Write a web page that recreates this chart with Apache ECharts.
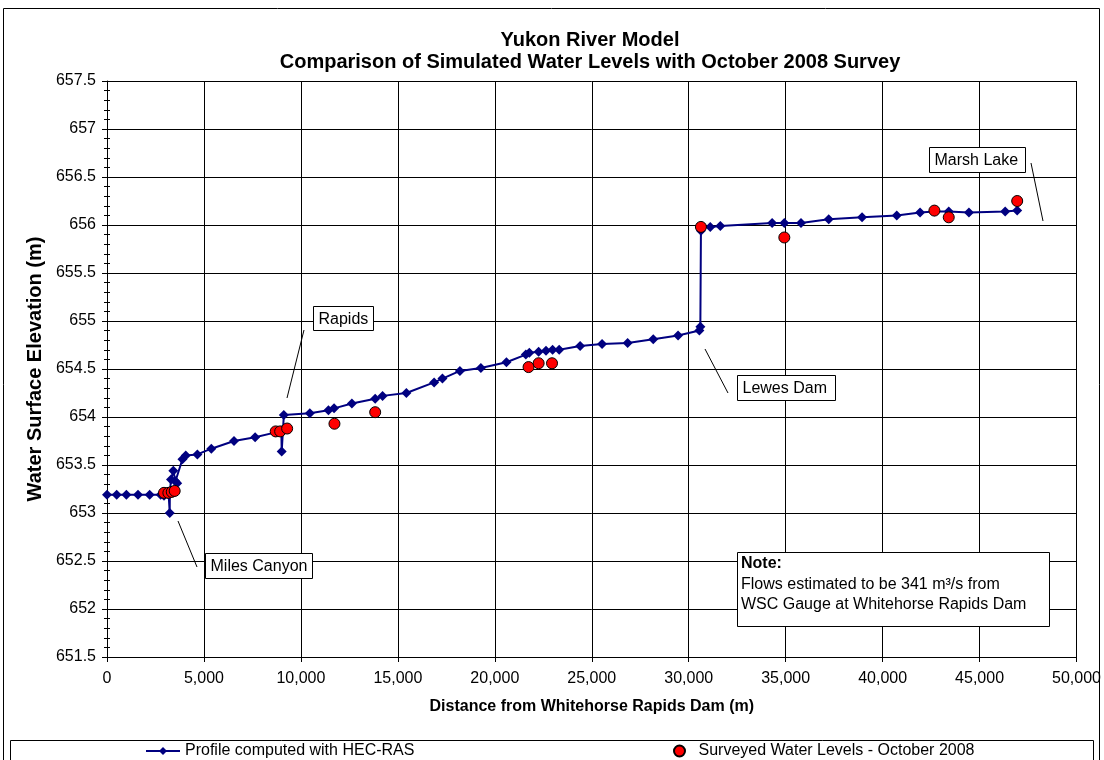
<!DOCTYPE html>
<html>
<head>
<meta charset="utf-8">
<script src="https://cdn.jsdelivr.net/npm/echarts@6/dist/echarts.min.js"></script>
<style>
html,body{margin:0;padding:0;background:#fff;}
#chart{width:1104px;height:760px;}
</style>
</head>
<body>
<div id="chart"></div>
<script>
// ---- data ----
const profileX = [0, 500, 1000, 1600, 2200, 2770, 2940, 3180, 3235, 3240, 3300, 3420, 3530, 3620, 3890, 4060, 4660, 5380, 6550, 7640, 8700, 8990, 9010, 9120, 10460, 11420, 11710, 12630, 13830, 14210, 15440, 16870, 17300, 18200, 19280, 20600, 21600, 21780, 22260, 22640, 22980, 23320, 24400, 25530, 26850, 28170, 29450, 30550, 30600, 30630, 30640, 31110, 31630, 34300, 34930, 35790, 37220, 38940, 40730, 41930, 42670, 43410, 44450, 46320, 46940];
const profileY = [653.19, 653.19, 653.19, 653.19, 653.19, 653.19, 653.18, 653.19, 653.00, 653.20, 653.35, 653.44, 653.33, 653.31, 653.56, 653.60, 653.61, 653.67, 653.75, 653.79, 653.84, 653.86, 653.64, 654.02, 654.04, 654.07, 654.09, 654.14, 654.19, 654.22, 654.25, 654.36, 654.40, 654.48, 654.51, 654.57, 654.65, 654.67, 654.68, 654.69, 654.70, 654.70, 654.74, 654.76, 654.77, 654.81, 654.85, 654.90, 654.94, 655.94, 655.98, 655.98, 655.99, 656.02, 656.02, 656.02, 656.06, 656.08, 656.10, 656.13, 656.14, 656.14, 656.13, 656.14, 656.15];
const surveyX = [2940, 3165, 3340, 3490, 8700, 8930, 9290, 11730, 13830, 21740, 22260, 22950, 30630, 34930, 42670, 43410, 46940];
const surveyY = [653.21, 653.21, 653.22, 653.23, 653.85, 653.85, 653.88, 653.93, 654.05, 654.52, 654.56, 654.56, 655.98, 655.87, 656.15, 656.08, 656.25];
const xTicks = {min: 0, max: 50000, step: 5000};
const yTicks = {min: 651.5, max: 657.5, step: 0.5};
const seriesNames = ['Profile computed with HEC-RAS', 'Surveyed Water Levels - October 2008'];
const titleLines = ['Yukon River Model', 'Comparison of Simulated Water Levels with October 2008 Survey'];
const xTitle = 'Distance from Whitehorse Rapids Dam (m)';
const yTitle = 'Water Surface Elevation (m)';
const notes = {head: 'Note:', body: ['Flows estimated to be 341 m³/s from', 'WSC Gauge at Whitehorse Rapids Dam']};
const callouts = ['Rapids', 'Lewes Dam', 'Miles Canyon', 'Marsh Lake'];

const FONT = '"Liberation Sans", Arial, sans-serif';
const chart = echarts.init(document.getElementById('chart'), null, {renderer: 'canvas'});

function callout(text, bx, by, bw, bh, x1, y1, x2, y2) {
  return [
    {type: 'line', shape: {x1: x1, y1: y1, x2: x2, y2: y2}, style: {stroke: '#000', lineWidth: 1}, z: 50},
    {type: 'rect', shape: {x: bx, y: by, width: bw, height: bh}, style: {fill: '#fff', stroke: '#000', lineWidth: 1}, z: 50},
    {type: 'text', x: bx + 5, y: by + bh / 2 + 1, style: {text: text, fill: '#000', font: '16px ' + FONT, textVerticalAlign: 'middle'}, z: 51}
  ];
}

const graphics = [
  {type: 'rect', shape: {x: 3.5, y: 8.5, width: 1096, height: 780}, style: {fill: null, stroke: '#000', lineWidth: 1}, z: 0, silent: true},
  {type: 'rect', shape: {x: 10.5, y: 740.5, width: 1083, height: 40}, style: {fill: '#fff', stroke: '#000', lineWidth: 1}, z: 1},
  {type: 'text', x: 590, y: 40, style: {text: titleLines[0], fill: '#000', font: 'bold 20px ' + FONT, textAlign: 'center', textVerticalAlign: 'middle'}},
  {type: 'text', x: 590, y: 62, style: {text: titleLines[1], fill: '#000', font: 'bold 20px ' + FONT, textAlign: 'center', textVerticalAlign: 'middle'}},
  {type: 'rect', shape: {x: 737.5, y: 552.5, width: 312, height: 74}, style: {fill: '#fff', stroke: '#000', lineWidth: 1}, z: 50},
  {type: 'text', x: 741, y: 564, style: {text: notes.head, fill: '#000', font: 'bold 16px ' + FONT, textVerticalAlign: 'middle'}, z: 51},
  {type: 'text', x: 741, y: 585, style: {text: notes.body[0], fill: '#000', font: '16px ' + FONT, textVerticalAlign: 'middle'}, z: 51},
  {type: 'text', x: 741, y: 605, style: {text: notes.body[1], fill: '#000', font: '16px ' + FONT, textVerticalAlign: 'middle'}, z: 51}
]
.concat(callout(callouts[0], 313.5, 306.5, 60, 24, 304, 330, 287, 398))
.concat(callout(callouts[1], 737.5, 375.5, 98, 25, 705, 349, 728, 393))
.concat(callout(callouts[2], 205.5, 553.5, 107, 25, 178, 521, 197, 567))
.concat(callout(callouts[3], 929.5, 147.5, 96, 25, 1031, 163, 1043, 221));

const option = {
  backgroundColor: '#fff',
  animation: false,
  grid: {left: 107, right: 27, top: 81, bottom: 103, containLabel: false},
  legend: [
    {data: [seriesNames[0]], left: 145, top: 743, itemWidth: 34, itemHeight: 10, padding: 0,
     textStyle: {fontFamily: FONT, fontSize: 16, color: '#000'}},
    {data: [seriesNames[1]], left: 673, top: 743, itemWidth: 28, itemHeight: 11, padding: 0,
     textStyle: {fontFamily: FONT, fontSize: 16, color: '#000'}}
  ],
  xAxis: {
    type: 'value', min: xTicks.min, max: xTicks.max, interval: xTicks.step,
    name: xTitle, nameLocation: 'middle', nameGap: 42,
    nameTextStyle: {fontFamily: FONT, fontSize: 16, fontWeight: 'bold', color: '#000'},
    axisLine: {show: true, onZero: false, lineStyle: {color: '#000', width: 1}},
    axisTick: {show: true, length: 5, lineStyle: {color: '#000'}},
    axisLabel: {fontFamily: FONT, fontSize: 16, color: '#000', margin: 14,
      formatter: function (v) { return v.toLocaleString('en-US'); }},
    splitLine: {show: true, lineStyle: {color: '#000', width: 1}}
  },
  yAxis: [{
    type: 'value', min: yTicks.min, max: yTicks.max, interval: yTicks.step,
    name: yTitle, nameLocation: 'middle', nameGap: 58,
    nameTextStyle: {fontFamily: FONT, fontSize: 20, fontWeight: 'bold', color: '#000'},
    axisLine: {show: true, onZero: false, lineStyle: {color: '#000', width: 1}},
    axisTick: {show: true, length: 5, lineStyle: {color: '#000'}},
    minorTick: {show: true, splitNumber: 5, length: 3, lineStyle: {color: '#000'}},
    axisLabel: {fontFamily: FONT, fontSize: 16, color: '#000', margin: 11},
    splitLine: {show: true, lineStyle: {color: '#000', width: 1}}
  }, {
    type: 'value', min: yTicks.min, max: yTicks.max, interval: yTicks.step, position: 'left',
    axisLine: {show: false}, axisLabel: {show: false}, splitLine: {show: false},
    axisTick: {show: false, inside: true},
    minorTick: {show: true, splitNumber: 5, length: 3, lineStyle: {color: '#000'}}
  }],
  series: [{
    name: seriesNames[0], type: 'line', yAxisIndex: 0,
    data: profileX.map(function (x, i) { return [x, profileY[i]]; }),
    symbol: 'diamond', symbolSize: 10, showAllSymbol: true,
    lineStyle: {color: '#000080', width: 2},
    itemStyle: {color: '#000080', borderWidth: 0},
    z: 10
  }, {
    name: seriesNames[1], type: 'scatter', yAxisIndex: 0,
    data: surveyX.map(function (x, i) { return [x, surveyY[i]]; }),
    symbol: 'circle', symbolSize: 11,
    itemStyle: {color: '#ff0000', borderColor: '#000', borderWidth: 1, opacity: 1},
    z: 20
  }],
  graphic: graphics
};
chart.setOption(option);
</script>
</body>
</html>
